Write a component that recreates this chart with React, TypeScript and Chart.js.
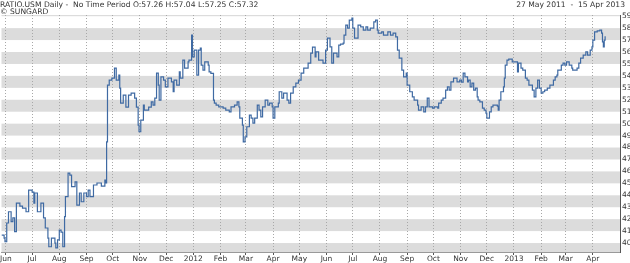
import React, { useEffect, useRef } from "react";
import { Chart, registerables } from "chart.js";

Chart.register(...registerables);

const START_DATE = "2011-05-27";

// trading days since START_DATE and ratio value
const dayOffsets = [
  0, 3, 4, 6, 8, 11, 13, 15, 17, 21, 24, 28, 31, 35, 37, 38, 41, 45, 48, 50,
  53, 54, 57, 61, 62, 64, 66, 68, 70, 72, 73, 76, 78, 80, 84, 86, 89, 91, 94, 97,
  99, 101, 105, 109, 111, 114, 118, 119, 120, 121, 123, 126, 129, 131, 134, 135, 136, 139, 142, 145,
  148, 152, 154, 156, 157, 159, 162, 163, 168, 171, 173, 175, 177, 179, 180, 182, 185, 187, 190, 194,
  196, 197, 200, 203, 204, 207, 209, 213, 214, 217, 218, 220, 223, 225, 227, 228, 230, 232, 236, 237,
  239, 242, 243, 245, 248, 253, 256, 260, 262, 266, 269, 271, 272, 275, 276, 278, 280, 283, 285, 287,
  289, 292, 294, 296, 298, 301, 304, 306, 309, 310, 312, 316, 317, 320, 322, 326, 328, 330, 333, 336,
  339, 342, 345, 350, 353, 355, 358, 359, 362, 367, 370, 372, 375, 377, 379, 383, 385, 387, 390, 391,
  393, 395, 397, 400, 401, 403, 407, 410, 413, 416, 418, 421, 425, 427, 429, 430, 434, 436, 441, 444,
  447, 450, 452, 454, 457, 459, 462, 463, 466, 469, 471, 475, 476, 479, 482, 484, 486, 488, 492, 494,
  498, 499, 502, 504, 507, 509, 511, 513, 516, 520, 523, 525, 527, 529, 532, 533, 535, 537, 539, 541,
  543, 544, 546, 549, 551, 553, 554, 557, 559, 561, 566, 567, 568, 570, 573, 574, 575, 577, 579, 583,
  586, 589, 590, 593, 595, 598, 600, 602, 606, 608, 610, 612, 614, 616, 618, 620, 623, 626, 630, 632,
  634, 635, 639, 641, 643, 645, 648, 651, 652, 657, 659, 661, 664, 667, 669, 672, 674, 675, 677, 680,
  683, 685, 686, 687, 688, 689,
];

const ratioValues = [
  40.67, 40.42, 40.11, 41.68, 42.62, 41.79, 42.1, 40.95, 43.35, 43.1, 42.93, 42.62, 44.44, 44.27, 43.35, 44.19, 42.62, 43.35, 42.1, 41.26,
  40.42, 39.69, 40.42, 40.0, 39.59, 40.26, 41.09, 40.92, 39.69, 42.21, 43.88, 45.86, 45.69, 44.72, 45.13, 43.18, 44.19, 43.46, 44.19, 43.88,
  44.44, 43.88, 44.86, 45.03, 45.03, 44.77, 45.28, 45.03, 48.48, 53.23, 53.64, 53.81, 54.65, 53.64, 54.06, 52.97, 51.72, 52.39, 51.38, 52.39,
  52.56, 52.14, 51.38, 49.88, 49.32, 50.3, 51.55, 51.13, 51.38, 51.83, 51.55, 52.14, 54.23, 53.23, 51.97, 53.92, 53.64, 53.08, 53.81, 53.5,
  52.67, 53.64, 53.23, 54.34, 53.81, 55.32, 54.65, 55.18, 55.32, 57.41, 55.59, 56.15, 54.06, 56.15, 56.32, 54.9, 54.48, 55.18, 54.9, 54.34,
  54.21, 51.97, 51.72, 51.55, 51.41, 51.3, 51.13, 50.99, 51.41, 51.55, 51.83, 51.41, 50.46, 49.88, 48.48, 48.9, 49.74, 50.72, 50.46, 50.05,
  50.46, 51.55, 51.13, 50.57, 51.41, 51.97, 51.55, 51.72, 51.41, 50.46, 51.41, 51.72, 52.67, 52.14, 52.56, 51.97, 51.72, 52.56, 53.08, 53.39,
  53.64, 54.23, 54.65, 55.07, 55.9, 56.41, 55.59, 56.01, 55.32, 55.07, 56.15, 57.16, 56.43, 55.07, 55.9, 55.59, 56.57, 56.66, 56.74, 57.41,
  58.25, 58.0, 58.67, 58.83, 58.0, 57.16, 58.25, 58.1, 57.83, 58.1, 57.83, 58.0, 58.52, 58.67, 57.83, 57.58, 57.69, 57.41, 57.69, 57.41,
  57.58, 57.27, 56.15, 55.49, 54.48, 53.92, 54.23, 53.23, 52.67, 52.25, 51.97, 51.55, 51.13, 51.41, 50.99, 51.41, 52.14, 51.41, 51.3, 51.41,
  51.3, 51.72, 51.97, 52.14, 52.81, 53.08, 52.81, 53.5, 53.81, 53.5, 53.64, 53.48, 54.23, 53.92, 53.5, 53.64, 53.08, 53.39, 52.81, 52.97,
  52.25, 51.97, 51.83, 51.3, 51.13, 50.88, 50.46, 50.99, 51.41, 51.55, 51.47, 51.13, 51.97, 52.67, 53.08, 53.81, 54.9, 55.32, 55.4, 55.18,
  55.18, 54.34, 55.07, 54.65, 54.48, 53.81, 53.64, 53.23, 52.81, 52.25, 52.97, 53.64, 52.97, 52.56, 52.67, 52.81, 52.97, 53.23, 53.64, 53.92,
  54.06, 54.48, 54.9, 55.07, 54.9, 55.18, 54.9, 54.65, 54.48, 54.65, 55.07, 55.49, 55.74, 56.01, 55.74, 56.15, 56.43, 56.99, 57.69, 57.77,
  57.83, 57.58, 56.85, 56.43, 56.99, 57.32,
];

const monthTickDates = [
  "2011-06-01", "2011-07-01", "2011-08-01", "2011-09-01", "2011-10-01", "2011-11-01", "2011-12-01",
  "2012-01-01", "2012-02-01", "2012-03-01", "2012-04-01", "2012-05-01", "2012-06-01", "2012-07-01",
  "2012-08-01", "2012-09-01", "2012-10-01", "2012-11-01", "2012-12-01", "2013-01-01", "2013-02-01",
  "2013-03-01", "2013-04-01",
];
const monthTickLabels = [
  "Jun", "Jul", "Aug", "Sep", "Oct", "Nov", "Dec", "2012", "Feb", "Mar", "Apr", "May", "Jun", "Jul",
  "Aug", "Sep", "Oct", "Nov", "Dec", "2013", "Feb", "Mar", "Apr",
];
const yTickValues = [40, 41, 42, 43, 44, 45, 46, 47, 48, 49, 50, 51, 52, 53, 54, 55, 56, 57, 58, 59];

const headerLeft = "RATIO.USM Daily -  No Time Period O:57.26 H:57.04 L:57.25 C:57.32";
const headerCopy = "© SUNGARD";
const headerRange = "27 May 2011  -  15 Apr 2013";

const DAY_MS = 86400000;
const toDay = (d: string) => (Date.parse(d) - Date.parse(START_DATE)) / DAY_MS;

const bandPlugin = {
  id: "bands",
  beforeDraw(chart: any) {
    const { ctx, chartArea, scales } = chart;
    const y = scales.y;
    ctx.save();
    ctx.fillStyle = "#dcdcdc";
    for (let v = 39; v <= 59; v += 2) {
      const top = Math.max(y.getPixelForValue(v + 1), chartArea.top);
      const bot = Math.min(y.getPixelForValue(v), chartArea.bottom);
      if (bot > top) ctx.fillRect(chartArea.left, top, chartArea.right - chartArea.left, bot - top);
    }
    ctx.restore();
  },
};

export default function App() {
  const ref = useRef<HTMLCanvasElement>(null);
  useEffect(() => {
    const tickDays = monthTickDates.map(toDay);
    const points = dayOffsets.map((d, i) => ({ x: d, y: ratioValues[i] }));
    const font = { family: "DejaVu Sans", size: 7.5 };
    const chart = new Chart(ref.current!, {
      type: "line",
      data: {
        datasets: [
          {
            data: points,
            borderColor: "#3f6aa3",
            borderWidth: 1.2,
            pointRadius: 0,
            stepped: true,
            tension: 0,
          },
        ],
      },
      options: {
        animation: false,
        responsive: false,
        events: [],
        layout: { padding: { top: 15, left: 0, right: 0, bottom: 0 } },
        plugins: { legend: { display: false }, tooltip: { enabled: false } },
        scales: {
          x: {
            type: "linear",
            min: 0,
            max: 706,
            afterBuildTicks: (s: any) => {
              s.ticks = tickDays.map((v) => ({ value: v }));
            },
            afterFit: (s: any) => {
              s.height = 11;
            },
            ticks: {
              autoSkip: false,
              maxRotation: 0,
              padding: 0,
              color: "#333",
              font,
              callback: (_v: any, i: number) => monthTickLabels[i],
            },
            grid: {
              color: "#a8a8a8",
              lineWidth: 1,
              tickLength: 3,
              tickColor: "#555",
            },
            border: { display: true, color: "#999", dash: [1, 2] },
          },
          y: {
            type: "linear",
            position: "right",
            min: 39.25,
            max: 59.1,
            afterBuildTicks: (s: any) => {
              s.ticks = yTickValues.map((v) => ({ value: v }));
            },
            afterFit: (s: any) => {
              s.width = 10;
            },
            ticks: { color: "#333", font, padding: 1 },
            grid: { drawOnChartArea: false, tickLength: 1, color: "#555" },
            border: { display: true, color: "#555", width: 1 },
          },
        },
      },
      plugins: [bandPlugin],
    });
    return () => chart.destroy();
  }, []);

  const textStyle: React.CSSProperties = {
    position: "absolute",
    fontFamily: "DejaVu Sans",
    fontSize: "7.6px",
    lineHeight: "7px",
    color: "#333",
    whiteSpace: "pre",
  };

  return (
    <div style={{ position: "absolute", left: 0, top: 0, width: 630, height: 263, background: "#fff" }}>
      <canvas ref={ref} width={630} height={263} style={{ position: "absolute", left: 0, top: 0 }} />
      <div style={{ ...textStyle, left: 0, top: 1 }}>{headerLeft}</div>
      <div style={{ ...textStyle, left: 0, top: 8 }}>{headerCopy}</div>
      <div style={{ ...textStyle, right: 5, top: 1 }}>{headerRange}</div>
    </div>
  );
}
